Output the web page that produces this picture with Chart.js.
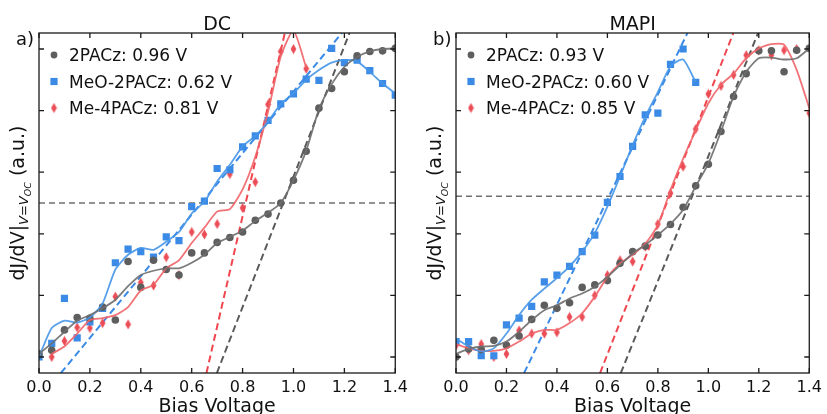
<!DOCTYPE html>
<html>
<head>
<meta charset="utf-8">
<script src="https://cdn.jsdelivr.net/npm/chart.js@4.4.1/dist/chart.umd.min.js"></script>
<style>
  html, body { margin: 0; padding: 0; background: #fff; }
  #wrap { position: relative; width: 827px; height: 414px; overflow: hidden; }
  .panel { position: absolute; top: 0; }
</style>
</head>
<body>
<div id="wrap">
  <canvas id="dc" class="panel" style="left:0" width="413" height="414"></canvas>
  <canvas id="mapi" class="panel" style="left:413px" width="414" height="414"></canvas>
</div>
<script>
// bias voltage grid (V) and axis ticks
const biasV = [0.00, 0.05, 0.10, 0.15, 0.20, 0.25, 0.30, 0.35, 0.40, 0.45, 0.50, 0.55, 0.60, 0.65, 0.70,
               0.75, 0.80, 0.85, 0.90, 0.95, 1.00, 1.05, 1.10, 1.15, 1.20, 1.25, 1.30, 1.35, 1.40];
const xTicks = [0.0, 0.2, 0.4, 0.6, 0.8, 1.0, 1.2, 1.4];
const yTicks = [0, 1, 2, 3, 4, 5];
const yMin = -0.26, yMax = 5.26;

const sams = ['2PACz', 'MeO-2PACz', 'Me-4PACz'];
const vocDC = [0.96, 0.62, 0.81];
const vocMAPI = [0.93, 0.60, 0.85];

// DC panel (a.u.)
const dc2PACz    = [0.05, 0.11, 0.44, 0.64, 0.63, 0.81, 0.60, 1.55, 1.13, 1.57, 1.42, 1.33, 1.69, 1.69, 1.86,
                    1.94, 2.03, 2.22, 2.32, 2.50, 2.87, 3.34, 4.04, 4.36, 4.63, 4.89, 4.96, 4.97, 5.01];
const dc2PACzFit = [0.05, 0.22, 0.41, 0.59, 0.68, 0.79, 0.93, 1.15, 1.33, 1.40, 1.44, 1.44, 1.53, 1.66, 1.85,
                    1.95, 2.05, 2.21, 2.34, 2.50, 2.87, 3.35, 4.02, 4.43, 4.71, 4.87, 4.96, 5.00, 5.01];
const dcMeO      = [0.00, 0.22, 0.95, 0.31, 0.57, 0.79, 1.53, 1.75, 1.71, 1.62, 1.95, 1.89, 2.44, 2.53, 3.06,
                    3.04, 3.41, 3.59, 3.84, 4.11, 4.27, 4.51, 4.49, 5.01, 4.78, 4.82, 4.65, 4.44, 4.25];
const dcMeOFit   = [0.00, 0.47, 0.59, 0.56, 0.64, 0.87, 1.42, 1.66, 1.77, 1.74, 1.87, 2.03, 2.33, 2.52, 2.85,
                    3.12, 3.42, 3.59, 3.82, 4.11, 4.28, 4.50, 4.66, 4.78, 4.82, 4.80, 4.63, 4.44, 4.28];
// Me-4PACz (DC) runs 0.05 .. 1.05 V
const dcMe4      = [0.00, 0.26, 0.48, 0.47, 0.55, 0.98, 0.53, 1.21, 1.16, 1.62, 1.33, 2.03, 1.99, 2.16, 2.97,
                    2.42, 2.84, 4.10, 4.96, 5.00, 4.68];
const dcMe4Fit   = [0.05, 0.17, 0.38, 0.60, 0.63, 0.68, 0.81, 1.08, 1.17, 1.44, 1.57, 1.85, 2.10, 2.36, 2.40,
                    2.72, 3.25, 3.98, 4.88, 5.30, 4.70];
// tangent lines: x where they cross the bottom / top of the frame
const dcTanLo = [0.699, 0.086, 0.658];
const dcTanHi = [1.220, 1.190, 0.966];
const dcLevel = 2.5;

// MAPI panel (a.u.)
const mapi2PACz    = [0.00, 0.13, 0.12, 0.27, 0.19, 0.34, 0.61, 0.84, 0.79, 0.88, 1.13, 1.17, 1.24, 1.52, 1.71,
                      1.80, 1.98, 2.15, 2.43, 2.78, 3.13, 3.66, 4.23, 4.60, 4.97, 4.97, 4.63, 4.98, 5.01];
const mapi2PACzFit = [0.05, 0.13, 0.17, 0.18, 0.25, 0.41, 0.60, 0.76, 0.84, 0.95, 1.03, 1.14, 1.30, 1.49, 1.68,
                      1.82, 1.98, 2.16, 2.39, 2.77, 3.14, 3.66, 4.23, 4.63, 4.85, 4.86, 4.83, 4.85, 5.01];
// MeO-2PACz (MAPI) runs 0.00 .. 0.95 V
const mapiMeO      = [0.25, 0.25, 0.02, 0.02, 0.52, 0.63, 0.82, 1.22, 1.33, 1.47, 1.71, 1.98, 2.51, 2.93, 3.42,
                      3.93, 3.96, 4.75, 5.00, 4.46];
const mapiMeOFit   = [0.30, 0.17, 0.09, 0.14, 0.38, 0.68, 0.93, 1.11, 1.28, 1.47, 1.71, 2.01, 2.44, 2.93, 3.44,
                      3.90, 4.30, 4.72, 4.83, 4.46];
const mapiMe4      = [0.19, 0.11, 0.21, 0.00, 0.05, 0.43, 0.38, 0.38, 0.40, 0.65, 0.65, 1.00, 1.33, 1.57, 1.55,
                      1.79, 2.16, 2.66, 3.09, 3.70, 4.27, 4.40, 4.58, 4.90, 4.98, 4.90, 4.98, 5.00, 3.96];
const mapiMe4Fit   = [0.21, 0.14, 0.10, 0.10, 0.14, 0.25, 0.38, 0.44, 0.44, 0.55, 0.71, 0.98, 1.30, 1.52, 1.66,
                      1.84, 2.14, 2.71, 3.22, 3.68, 4.12, 4.42, 4.60, 4.85, 5.01, 5.08, 5.07, 4.66, 4.04];
const mapiTanLo = [0.653, 0.270, 0.571];
const mapiTanHi = [1.197, 0.917, 1.099];
const mapiLevel = 2.61;

const FONT = "'DejaVu Sans', sans-serif";
const markColors = ['#5e5e5e', '#3b8ae6', '#eb4c55'];
const lineColors = ['rgba(110,110,110,0.9)', 'rgba(70,150,232,0.9)', 'rgba(240,100,104,0.9)'];
const dashColors = ['#5a5a5a', '#3b8ae6', '#f0464e'];

// thin diamond marker (matplotlib 'd')
const diamond = document.createElement('canvas');
diamond.width = 7; diamond.height = 11;
(function () {
  const c = diamond.getContext('2d');
  c.fillStyle = markColors[2];
  c.beginPath();
  c.moveTo(3.5, 0.5); c.lineTo(6.4, 5.5); c.lineTo(3.5, 10.5); c.lineTo(0.6, 5.5);
  c.closePath(); c.fill();
})();
const markerStyles = [
  { pointStyle: 'circle', pointRadius: 3.8 },
  { pointStyle: 'rect', pointRadius: 5.1 },
  { pointStyle: diamond, pointRadius: 5 },
];

const pts = (xs, ys) => ys.map((y, i) => ({ x: xs[i], y: y }));

function drawMarker(ctx, i, x, y) {
  ctx.fillStyle = markColors[i];
  if (i === 0) { ctx.beginPath(); ctx.arc(x, y, 3.4, 0, Math.PI * 2); ctx.fill(); }
  else if (i === 1) { ctx.fillRect(x - 3.6, y - 3.6, 7.2, 7.2); }
  else { ctx.drawImage(diamond, x - 3.5, y - 5.5); }
}

// frame, inward ticks, legend, titles
const decor = {
  id: 'decor',
  afterDraw(chart) {
    const o = chart.options.plugins.decor;
    const { ctx, chartArea: a, scales } = chart;
    ctx.save();
    ctx.strokeStyle = '#1a1a1a';
    ctx.lineWidth = 1.3;
    ctx.strokeRect(a.left, a.top, a.right - a.left, a.bottom - a.top);
    ctx.beginPath();
    xTicks.forEach(v => {
      const px = scales.x.getPixelForValue(v);
      ctx.moveTo(px, a.bottom); ctx.lineTo(px, a.bottom - 5);
      ctx.moveTo(px, a.top); ctx.lineTo(px, a.top + 5);
    });
    yTicks.forEach(v => {
      const py = scales.y.getPixelForValue(v);
      ctx.moveTo(a.left, py); ctx.lineTo(a.left + 5, py);
      ctx.moveTo(a.right, py); ctx.lineTo(a.right - 5, py);
    });
    ctx.stroke();

    // legend
    ctx.font = '17px ' + FONT;
    ctx.textBaseline = 'alphabetic';
    ctx.textAlign = 'left';
    o.voc.forEach((v, i) => {
      const y = 55 + i * 26.5;
      drawMarker(ctx, i, a.left + 15, y);
      ctx.fillStyle = '#111';
      ctx.fillText(sams[i] + ': ' + v.toFixed(2) + ' V', a.left + 30, y + 6.2);
    });

    // title and panel letter
    ctx.fillStyle = '#111';
    ctx.textAlign = 'center';
    ctx.font = '19px ' + FONT;
    ctx.fillText(o.title, (a.left + a.right) / 2, 30);
    ctx.fillText('Bias Voltage', (a.left + a.right) / 2, 412);
    ctx.textAlign = 'left';
    ctx.font = '18px ' + FONT;
    ctx.fillText(o.letter, a.left - 23, 45);

    // y label: dJ/dV|_{V=V_OC} (a.u.)
    const segs = [
      { t: 'dJ/dV|', f: '19px ' + FONT, dy: 0 },
      { t: 'V', f: 'italic 13px ' + FONT, dy: 4 },
      { t: '=', f: '13px ' + FONT, dy: 4 },
      { t: 'V', f: 'italic 13px ' + FONT, dy: 4 },
      { t: 'OC', f: 'italic 9.5px ' + FONT, dy: 6.5 },
      { t: ' (a.u.)', f: '19px ' + FONT, dy: 0 },
    ];
    let total = 0;
    segs.forEach(s => { ctx.font = s.f; s.w = ctx.measureText(s.t).width; total += s.w; });
    ctx.translate(a.left - 15, (a.top + a.bottom) / 2);
    ctx.rotate(-Math.PI / 2);
    let x0 = -total / 2;
    segs.forEach(s => { ctx.font = s.f; ctx.fillText(s.t, x0, s.dy); x0 += s.w; });
    ctx.restore();
  }
};

function makePanel(id, p) {
  const datasets = [];
  // smoothed curves on top
  p.fits.forEach((f, i) => datasets.push({
    data: pts(f.x, f.y), showLine: true, borderColor: lineColors[i], borderWidth: 1.8,
    pointRadius: 0, tension: 0.2, clip: 0, order: 1
  }));
  p.points.forEach((s, i) => datasets.push({
    data: pts(s.x, s.y), showLine: false, backgroundColor: markColors[i], borderWidth: 0,
    pointStyle: markerStyles[i].pointStyle, pointRadius: markerStyles[i].pointRadius, clip: 0, order: 2
  }));
  p.tanLo.forEach((lo, i) => datasets.push({
    data: [{ x: lo, y: yMin }, { x: p.tanHi[i], y: yMax }], showLine: true, borderColor: dashColors[i],
    borderWidth: 2, borderDash: [7, 4], pointRadius: 0, clip: 0, order: 3
  }));
  datasets.push({
    data: [{ x: 0, y: p.level }, { x: 1.4, y: p.level }], showLine: true, borderColor: '#707070',
    borderWidth: 1.4, borderDash: [6, 4], pointRadius: 0, clip: 0, order: 4
  });

  return new Chart(document.getElementById(id).getContext('2d'), {
    type: 'scatter',
    data: { datasets },
    plugins: [decor],
    options: {
      responsive: false,
      animation: false,
      devicePixelRatio: 1,
      layout: { padding: { left: p.left, right: p.right, top: 33, bottom: 0 } },
      plugins: {
        legend: { display: false },
        tooltip: { enabled: false },
        decor: { title: p.title, letter: p.letter, voc: p.voc }
      },
      scales: {
        x: {
          type: 'linear', min: 0, max: 1.4,
          grid: { display: false, drawTicks: false },
          border: { display: false },
          afterBuildTicks: s => { s.ticks = xTicks.map(v => ({ value: v })); },
          afterFit: s => { s.height = 41; },
          ticks: {
            padding: 5, color: '#111', maxRotation: 0, autoSkip: false,
            font: { family: FONT, size: 16 },
            callback: v => v.toFixed(1)
          }
        },
        y: { display: false, min: yMin, max: yMax }
      }
    }
  });
}

makePanel('dc', {
  title: 'DC', letter: 'a)', voc: vocDC, left: 39, right: 16, level: dcLevel,
  tanLo: dcTanLo, tanHi: dcTanHi,
  points: [
    { x: biasV, y: dc2PACz },
    { x: biasV, y: dcMeO },
    { x: biasV.slice(1, 22), y: dcMe4 },
  ],
  fits: [
    { x: biasV, y: dc2PACzFit },
    { x: biasV, y: dcMeOFit },
    { x: biasV.slice(1, 22), y: dcMe4Fit },
  ]
});

makePanel('mapi', {
  title: 'MAPI', letter: 'b)', voc: vocMAPI, left: 43, right: 14, level: mapiLevel,
  tanLo: mapiTanLo, tanHi: mapiTanHi,
  points: [
    { x: biasV, y: mapi2PACz },
    { x: biasV.slice(0, 20), y: mapiMeO },
    { x: biasV, y: mapiMe4 },
  ],
  fits: [
    { x: biasV, y: mapi2PACzFit },
    { x: biasV.slice(0, 20), y: mapiMeOFit },
    { x: biasV, y: mapiMe4Fit },
  ]
});
</script>
</body>
</html>
